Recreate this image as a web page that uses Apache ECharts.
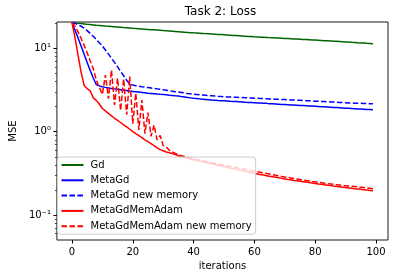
<!DOCTYPE html>
<html>
<head>
<meta charset="utf-8">
<script src="https://cdn.jsdelivr.net/npm/echarts@6/dist/echarts.min.js"></script>
<style>
html,body{margin:0;padding:0;background:#fff;}
#chart{width:398px;height:278px;}
</style>
</head>
<body>
<div id="chart"></div>
<script>
// x values are iteration indices 0..99
const seriesNames = ['Gd', 'MetaGd', 'MetaGd new memory', 'MetaGdMemAdam', 'MetaGdMemAdam new memory'];

const gd = [20.5,20.3,20.1,19.9,19.7,19.5,19.4,19.2,19.0,18.9,
18.8,18.66,18.53,18.4,18.27,18.14,18.01,17.88,17.76,17.63,
17.5,17.39,17.28,17.17,17.06,16.95,16.84,16.73,16.62,16.51,
16.4,16.3,16.2,16.1,16.0,15.9,15.8,15.7,15.6,15.5,
15.4,15.32,15.24,15.16,15.08,15.0,14.92,14.84,14.76,14.68,
14.6,14.52,14.44,14.36,14.28,14.2,14.12,14.04,13.96,13.88,
13.8,13.74,13.68,13.62,13.56,13.5,13.44,13.38,13.32,13.26,
13.2,13.14,13.08,13.02,12.96,12.9,12.84,12.78,12.72,12.66,
12.6,12.54,12.48,12.42,12.36,12.3,12.24,12.18,12.12,12.06,
12.0,11.93,11.86,11.8,11.73,11.67,11.6,11.53,11.47,11.4];

const metaGd = [20.5,16.6,13.4,10.7,8.5,6.8,5.43,4.42,3.69,3.55,
3.47,3.41,3.36,3.31,3.27,3.23,3.19,3.15,3.12,3.08,
3.05,3.02,2.99,2.96,2.93,2.9,2.88,2.86,2.83,2.81,
2.80,2.78,2.75,2.73,2.70,2.68,2.64,2.61,2.58,2.55,
2.52,2.5,2.48,2.46,2.44,2.42,2.4,2.39,2.37,2.36,
2.35,2.34,2.32,2.31,2.3,2.29,2.28,2.26,2.25,2.24,
2.23,2.22,2.21,2.2,2.19,2.17,2.16,2.15,2.14,2.13,
2.12,2.11,2.1,2.09,2.08,2.07,2.06,2.05,2.04,2.03,
2.02,2.01,2.0,1.99,1.98,1.97,1.96,1.95,1.94,1.93,
1.92,1.91,1.9,1.89,1.88,1.87,1.86,1.85,1.845,1.84];

const metaGdNew = [20.5,20.0,19.3,18.5,17.6,16.4,15.2,14.0,12.8,11.7,
10.7,9.6,8.6,7.6,6.8,6.0,5.3,4.7,4.15,3.75,
3.63,3.57,3.52,3.47,3.43,3.39,3.35,3.31,3.27,3.23,
3.19,3.15,3.11,3.07,3.03,3.0,2.96,2.92,2.88,2.85,
2.82,2.8,2.78,2.76,2.74,2.72,2.7,2.68,2.66,2.65,
2.63,2.62,2.61,2.6,2.59,2.58,2.57,2.56,2.55,2.54,
2.53,2.52,2.51,2.5,2.49,2.48,2.47,2.46,2.45,2.44,
2.43,2.42,2.41,2.4,2.39,2.38,2.37,2.36,2.35,2.34,
2.33,2.32,2.31,2.3,2.29,2.28,2.27,2.26,2.25,2.24,
2.23,2.22,2.21,2.2,2.2,2.19,2.18,2.18,2.17,2.17];

const memAdam = [20.5,13.5,8.3,5.2,3.6,3.3,3.1,2.55,2.38,2.15,
1.9,1.78,1.66,1.55,1.45,1.37,1.29,1.21,1.14,1.07,
1.0,0.95,0.9,0.85,0.8,0.76,0.72,0.68,0.64,0.61,
0.59,0.57,0.56,0.545,0.53,0.515,0.5,0.49,0.48,0.47,
0.46,0.452,0.443,0.435,0.427,0.419,0.411,0.403,0.395,0.388,
0.381,0.374,0.367,0.36,0.353,0.346,0.34,0.334,0.328,0.322,
0.316,0.311,0.306,0.301,0.296,0.291,0.287,0.283,0.279,0.275,
0.271,0.267,0.264,0.26,0.257,0.254,0.251,0.248,0.245,0.242,
0.239,0.236,0.233,0.23,0.228,0.225,0.222,0.22,0.218,0.215,
0.213,0.211,0.209,0.207,0.205,0.203,0.201,0.199,0.197,0.195];

const memAdamNew = [20.5,18.5,15.8,13.2,10.9,8.9,7.1,5.7,4.2,3.4,
2.8,4.8,2.5,5.5,2.1,4.4,1.8,4.3,1.6,4.6,
1.25,2.9,1.05,2.4,0.95,1.7,0.88,1.2,0.8,0.9,
0.68,0.66,0.6,0.57,0.55,0.53,0.515,0.503,0.492,0.482,
0.472,0.464,0.456,0.448,0.44,0.432,0.425,0.418,0.411,0.404,
0.397,0.39,0.384,0.377,0.371,0.365,0.359,0.353,0.347,0.341,
0.335,0.33,0.325,0.32,0.315,0.31,0.305,0.3,0.295,0.29,
0.286,0.282,0.278,0.274,0.27,0.266,0.262,0.259,0.256,0.253,
0.25,0.247,0.244,0.241,0.238,0.236,0.233,0.231,0.229,0.227,
0.225,0.223,0.221,0.219,0.217,0.215,0.213,0.211,0.209,0.207];

const xTickValues = [0, 20, 40, 60, 80, 100];
const yTickValues = [0.1, 1, 10];
const yTickLabels = ['10\u207B\u00B9', '10\u2070', '10\u00B9'];
const yMinorTickValues = [0.06,0.07,0.08,0.09,0.2,0.3,0.4,0.5,0.6,0.7,0.8,0.9,2,3,4,5,6,7,8,9,20];

const FONT = 'DejaVu Sans';
const toPairs = arr => arr.map((v, i) => [i, v]);

const seriesData = [gd, metaGd, metaGdNew, memAdam, memAdamNew];
const colors = ['#006400', '#0000ff', '#0000ff', '#ff0000', '#ff0000'];
const dashed = [false, false, true, false, true];

const chart = echarts.init(document.getElementById('chart'), null, {renderer: 'canvas'});
chart.setOption({
  animation: false,
  backgroundColor: '#ffffff',
  title: {
    text: 'Task 2: Loss',
    left: 220.5,
    top: 6,
    padding: 0,
    textAlign: 'center',
    textStyle: {fontFamily: FONT, fontSize: 12, fontWeight: 'normal', color: '#000'}
  },
  grid: {
    left: 53, top: 22, width: 335, height: 218,
    show: true, borderColor: '#1a1a1a', borderWidth: 1, backgroundColor: 'transparent',
    containLabel: false
  },
  legend: {
    orient: 'vertical',
    left: 57.5,
    top: 157,
    padding: [3, 4, 3, 3],
    itemWidth: 22,
    itemHeight: 10,
    itemGap: 5.3,
    backgroundColor: 'rgba(255,255,255,0.8)',
    borderColor: '#cccccc',
    borderWidth: 1,
    borderRadius: 3,
    itemStyle: {opacity: 0, borderWidth: 0},
    data: seriesNames,
    textStyle: {fontFamily: FONT, fontSize: 10, color: '#000', lineHeight: 10, padding: [0, 0, 0, 2]}
  },
  xAxis: {
    type: 'value',
    min: -4.95,
    max: 103.95,
    name: 'iterations',
    nameLocation: 'middle',
    nameGap: 21,
    nameTextStyle: {fontFamily: FONT, fontSize: 10, color: '#000'},
    axisLine: {show: false, onZero: false},
    splitLine: {show: false},
    axisTick: {show: true, length: 3.5, customValues: xTickValues, lineStyle: {color: '#000', width: 1}},
    axisLabel: {customValues: xTickValues, margin: 7, fontFamily: FONT, fontSize: 10, color: '#000'}
  },
  yAxis: [{
    type: 'log',
    min: 0.05,
    max: 20.8,
    position: 'left',
    name: 'MSE',
    nameLocation: 'middle',
    nameGap: 35,
    nameTextStyle: {fontFamily: FONT, fontSize: 10, color: '#000'},
    axisLine: {show: false, onZero: false},
    splitLine: {show: false},
    axisTick: {show: true, length: 3.5, customValues: yTickValues, lineStyle: {color: '#000', width: 1}},
    axisLabel: {
      customValues: yTickValues, margin: 6, fontFamily: FONT, fontSize: 10, color: '#000',
      formatter: function (v) {
        let best = 0;
        for (let i = 0; i < yTickValues.length; i++) {
          if (Math.abs(Math.log10(yTickValues[i]) - Math.log10(v)) < Math.abs(Math.log10(yTickValues[best]) - Math.log10(v))) best = i;
        }
        return yTickLabels[best];
      }
    }
  }, {
    type: 'log',
    min: 0.05,
    max: 20.8,
    position: 'left',
    offset: 0,
    axisLine: {show: false, onZero: false},
    splitLine: {show: false},
    axisTick: {show: true, length: 2, customValues: yMinorTickValues, lineStyle: {color: '#222', width: 0.8}},
    axisLabel: {show: false}
  }],
  series: seriesNames.map((name, i) => ({
    name: name,
    type: 'line',
    yAxisIndex: 0,
    data: toPairs(seriesData[i]),
    symbol: 'none',
    showSymbol: false,
    clip: true,
    color: colors[i],
    lineStyle: {color: colors[i], width: 1.5, type: dashed[i] ? [5.55, 2.4] : 'solid'},
    emphasis: {disabled: true}
  }))
});
</script>
</body>
</html>
